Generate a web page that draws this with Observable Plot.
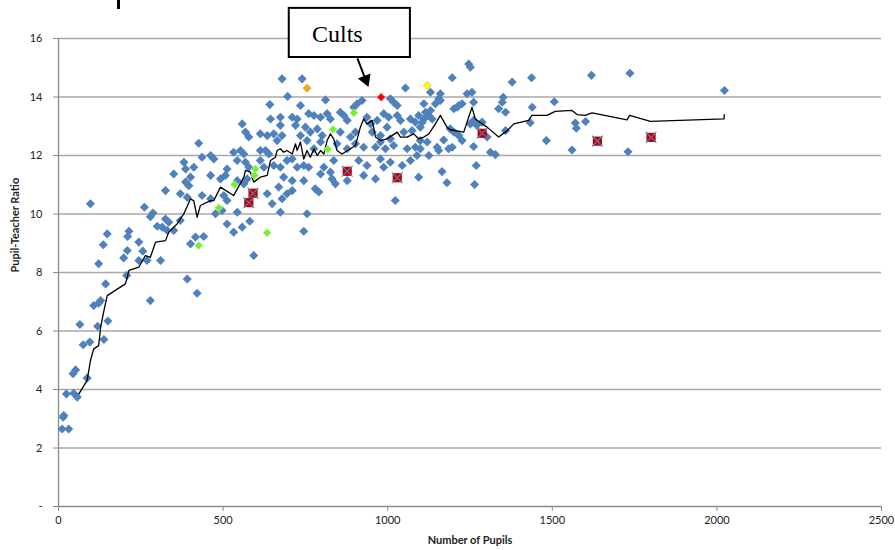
<!DOCTYPE html>
<html><head><meta charset="utf-8">
<script src="https://cdn.jsdelivr.net/npm/d3@7"></script>
<script src="https://cdn.jsdelivr.net/npm/@observablehq/plot@0.6"></script>
<style>
html,body{margin:0;padding:0;background:#fff;}
#wrap{position:relative;width:895px;height:550px;overflow:hidden;}
#wrap svg{position:absolute;left:0;top:0;}
#bar{position:absolute;left:117px;top:0;width:3px;height:9px;background:#000;z-index:2;}
</style></head><body>
<div id="wrap"><div id="bar"></div></div>
<script>
// ---- data: [number of pupils, pupil-teacher ratio] ----
const schools = [
[97,10.35],[261,10.23],[287,10.03],[279,9.91],[300,9.58],[214,9.41],[210,9.23],[148,9.32],[136,8.95],[244,9.04],[209,8.75],[198,8.50],[256,8.73],[244,8.41],[269,8.41],[122,8.30],[207,7.90],[143,7.61],[279,7.04],[107,6.87],[122,6.95],[128,7.04],[65,6.22],[119,6.16],[150,6.34],[138,5.71],[75,5.53],[95,5.62],[44,4.54],[52,4.67],[87,4.39],[24,3.85],[46,3.87],[57,3.74],[14,3.05],[16,3.11],[11,2.65],[31,2.65],[315,9.55],
[325,10.80],[370,10.69],[391,10.57],[396,10.97],[386,11.09],[436,10.63],[462,10.52],[502,10.63],[512,10.46],[497,10.12],[477,10.01],[634,10.69],[649,10.35],[674,10.06],[679,10.52],[694,10.69],[710,10.80],[669,10.92],[755,10.01],[543,10.06],[512,9.66],[532,9.38],[558,9.55],[581,9.75],[745,9.41],[325,9.83],[335,9.72],[350,9.44],[330,9.44],[370,9.78],[416,9.21],[441,9.23],[401,8.98],[593,8.58],[310,8.41],[391,7.78],[421,7.29],
[679,14.62],[740,14.62],[696,14.02],[642,13.74],[760,13.43],[644,13.25],[674,13.31],[710,13.31],[725,13.25],[720,13.03],[558,13.08],[568,12.80],[578,12.63],[674,13.03],[613,12.74],[634,12.68],[654,12.74],[664,12.51],[679,12.68],[735,12.68],[755,12.51],[426,12.42],[436,11.94],[462,12.00],[472,11.88],[532,12.11],[553,12.17],[563,12.05],[613,12.17],[629,12.17],[639,12.05],[694,11.83],[710,11.88],[381,11.77],[386,11.54],[411,11.60],[350,11.37],[401,11.26],[462,11.32],[512,11.54],[543,11.83],[568,11.77],[578,11.60],[613,11.83],[624,11.60],[654,11.66],[674,11.60],[725,11.60],[745,11.66],[760,11.60],[492,11.20],[507,11.32],[684,11.26],[710,11.14],[745,11.14],[543,11.14],[563,11.03],[573,11.20],
[1054,14.31],[811,13.90],[922,13.88],[907,13.77],[897,13.65],[1008,13.94],[1018,13.82],[1029,13.71],[735,13.71],[776,13.37],[796,13.31],[816,13.43],[826,13.25],[856,13.48],[867,13.37],[877,13.20],[937,13.31],[948,13.08],[968,13.20],[988,13.43],[1003,13.31],[1029,13.37],[1039,13.20],[1069,13.25],[1084,13.14],[1094,13.37],[750,12.97],[765,12.80],[786,12.91],[801,12.68],[856,12.80],[887,12.63],[902,12.80],[953,12.80],[978,12.68],[998,12.97],[1008,12.57],[1049,12.80],[1074,12.85],[776,12.23],[796,12.46],[846,12.40],[877,12.23],[902,12.40],[927,12.28],[963,12.28],[978,12.46],[993,12.23],[1018,12.34],[1059,12.23],[1084,12.28],[806,11.60],[826,11.43],[836,11.83],[912,11.83],[937,11.66],[978,11.88],[988,11.60],[1008,11.77],[1044,11.66],[1069,11.83],[1094,11.26],[1089,12.00],[796,11.37],[831,11.20],[963,11.20],[927,11.32],
[780,10.86],[791,10.75],[841,11.03],[877,11.14],[1023,10.46],
[1246,15.13],[1251,15.02],[1196,14.66],[1378,14.51],[1437,14.66],[1619,14.74],[1736,14.81],[2023,14.22],[1130,14.16],[1160,14.11],[1155,13.94],[1241,14.11],[1256,14.16],[1110,13.77],[1145,13.77],[1160,13.88],[1216,13.71],[1226,13.77],[1261,13.82],[1351,13.99],[1348,13.82],[1439,13.65],[1506,13.84],[1337,13.60],[1358,13.48],[1115,13.48],[1130,13.54],[1110,13.25],[1125,13.37],[1135,13.25],[1201,13.60],[1211,13.65],[1105,13.14],[1099,12.97],[1190,12.91],[1201,12.80],[1216,12.68],[1226,12.51],[1251,13.08],[1261,13.20],[1271,13.03],[1287,13.14],[1302,12.63],[1358,12.85],[1433,13.12],[1170,12.53],[1120,12.46],[1099,12.51],[1150,12.28],[1155,12.17],[1185,12.23],[1196,12.28],[1125,12.00],[1099,12.23],[1261,12.31],[1312,12.11],[1327,12.03],[1560,12.19],[1482,12.51],[1570,13.11],[1573,12.93],[1601,13.16],[1730,12.13],[1165,11.45],[1180,11.07],[1269,11.66],[1264,11.01]
];
const greenSchools = [[897,13.46],[834,12.89],[818,12.21],[598,11.54],[595,11.32],[535,11.01],[487,10.21],[634,9.36],[426,8.92]];
const orangeSchools = [[755,14.30]];
const yellowSchools = [[1120,14.39]];
const redSchools = [[980,13.99]];
const crossedSchools = [[591,10.71],[578,10.39],[877,11.46],[1029,11.24],[1287,12.76],[1637,12.49],[1800,12.62]];
const movingAverage = [
[62,3.85],[87,4.31],[97,4.99],[107,5.39],[122,5.50],[128,6.13],[138,6.70],[148,7.21],[203,7.61],[207,7.75],[214,8.07],[244,8.18],[264,8.58],[279,8.52],[295,9.04],[325,9.09],[335,9.38],[360,9.66],[381,10.01],[401,10.52],[411,10.45],[421,9.89],[431,10.29],[462,10.46],[472,10.46],[492,10.92],[532,10.63],[563,11.26],[568,11.49],[583,11.43],[593,11.09],[613,11.26],[634,11.32],[644,11.83],[659,11.94],[664,12.17],[674,12.23],[684,12.11],[694,12.17],[710,12.05],[720,12.40],[725,12.17],[735,12.46],[745,11.88],[755,12.17],[765,11.94],[776,12.23],[786,12.00],[796,12.17],[806,12.05],[816,12.51],[826,12.74],[836,12.57],[846,12.17],[861,12.05],[887,12.23],[902,12.34],[917,12.97],[927,13.25],[937,13.08],[953,13.20],[963,12.63],[978,12.51],[998,12.57],[1013,12.68],[1029,12.80],[1039,12.63],[1059,12.63],[1079,12.74],[1094,12.57],[1110,12.63],[1125,12.74],[1145,13.08],[1160,13.37],[1180,12.97],[1190,12.88],[1231,12.80],[1256,13.65],[1266,13.25],[1302,12.97],[1337,12.63],[1363,12.85],[1383,13.08],[1428,13.20],[1438,13.37],[1484,13.37],[1509,13.51],[1560,13.54],[1575,13.40],[1600,13.37],[1621,13.46],[1727,13.22],[1735,13.37],[1798,13.17],[2022,13.25],[2022,13.40]
];
const xTicks = [0,500,1000,1500,2000,2500];
const yTicks = [0,2,4,6,8,10,12,14,16];
const xTitle = "Number of Pupils";
const yTitle = "Pupil-Teacher Ratio";
const calloutText = "Cults";
const calloutBox = [{x1:701, x2:1069, y1:15.35, y2:17.03}];
const calloutLabel = [{x:847, y:16.15}];
const calloutArrow = [{x1:908, y1:15.32, x2:933, y2:14.59}];
const calloutHead = [{x:933, y:14.59}];

const rows = a => a.map(([pupils, ratio]) => ({pupils, ratio}));
const axisGray = "#8c8c8c";

const chart = Plot.plot({
  width: 895, height: 550,
  marginLeft: 58, marginRight: 14, marginTop: 38, marginBottom: 44,
  style: {fontFamily: "Lato, 'Open Sans', sans-serif", fontSize: "11px", color: "#222", background: "#fff", overflow: "visible"},
  x: {domain: [0, 2500]},
  y: {domain: [0, 16]},
  marks: [
    Plot.gridY(yTicks.filter(d => d > 0), {stroke: "#a8a8a8", strokeOpacity: 1, strokeWidth: 1.3}),
    Plot.ruleY([0], {stroke: axisGray, strokeWidth: 1.3}),
    Plot.ruleX([0], {stroke: axisGray, strokeWidth: 1.3}),
    Plot.axisY(yTicks, {tickSize: 5, tickPadding: 11, stroke: axisGray, fill: "#222", tickFormat: d => d === 0 ? "-" : String(d), label: null}),
    Plot.axisX(xTicks, {tickSize: 5, tickPadding: 5, stroke: axisGray, fill: "#222", tickFormat: d => String(d), label: null}),
    Plot.text([xTitle], {frameAnchor: "bottom", dy: 37, fontWeight: "bold", fontSize: 11}),
    Plot.text([yTitle], {frameAnchor: "left", dx: -43, rotate: -90, fontWeight: "bold", fontSize: 11}),
    Plot.dot(rows(schools), {x: "pupils", y: "ratio", symbol: "diamond2", r: 4.1, fill: "#4F81BD"}),
    Plot.line(rows(movingAverage), {x: "pupils", y: "ratio", stroke: "#000", strokeWidth: 1.3}),
    Plot.dot(rows(greenSchools), {x: "pupils", y: "ratio", symbol: "diamond2", r: 3.6, fill: "#72F22F", stroke: "#b9e6a0", strokeWidth: 0.7}),
    Plot.dot(rows(orangeSchools), {x: "pupils", y: "ratio", symbol: "diamond2", r: 3.6, fill: "#FFA500", stroke: "#c9a24a", strokeWidth: 0.8}),
    Plot.dot(rows(yellowSchools), {x: "pupils", y: "ratio", symbol: "diamond2", r: 3.6, fill: "#FFFF00", stroke: "#c8c85a", strokeWidth: 0.8}),
    Plot.dot(rows(redSchools), {x: "pupils", y: "ratio", symbol: "diamond2", r: 3.6, fill: "#FF0000", stroke: "#d66", strokeWidth: 0.7}),
    Plot.dot(rows(crossedSchools), {x: "pupils", y: "ratio", symbol: "square", r: 5.2, fill: "#C00000"}),
    Plot.dot(rows(crossedSchools), {x: "pupils", y: "ratio", symbol: "times", r: 5, stroke: "#4F81BD", strokeWidth: 1.1}),
    Plot.rect(calloutBox, {x1: "x1", x2: "x2", y1: "y1", y2: "y2", fill: "#fff", stroke: "#000", strokeWidth: 2}),
    Plot.text(calloutLabel, {x: "x", y: "y", text: () => calloutText, fontFamily: "'Liberation Serif', 'DejaVu Serif', serif", fontSize: 24, fill: "#000"}),
    Plot.link(calloutArrow, {x1: "x1", y1: "y1", x2: "x2", y2: "y2", stroke: "#000", strokeWidth: 2}),
    Plot.dot(calloutHead, {x: "x", y: "y", symbol: "triangle2", r: 6.5, fill: "#000", rotate: 158.6})
  ]
});
document.getElementById("wrap").appendChild(chart);
</script>
</body></html>
